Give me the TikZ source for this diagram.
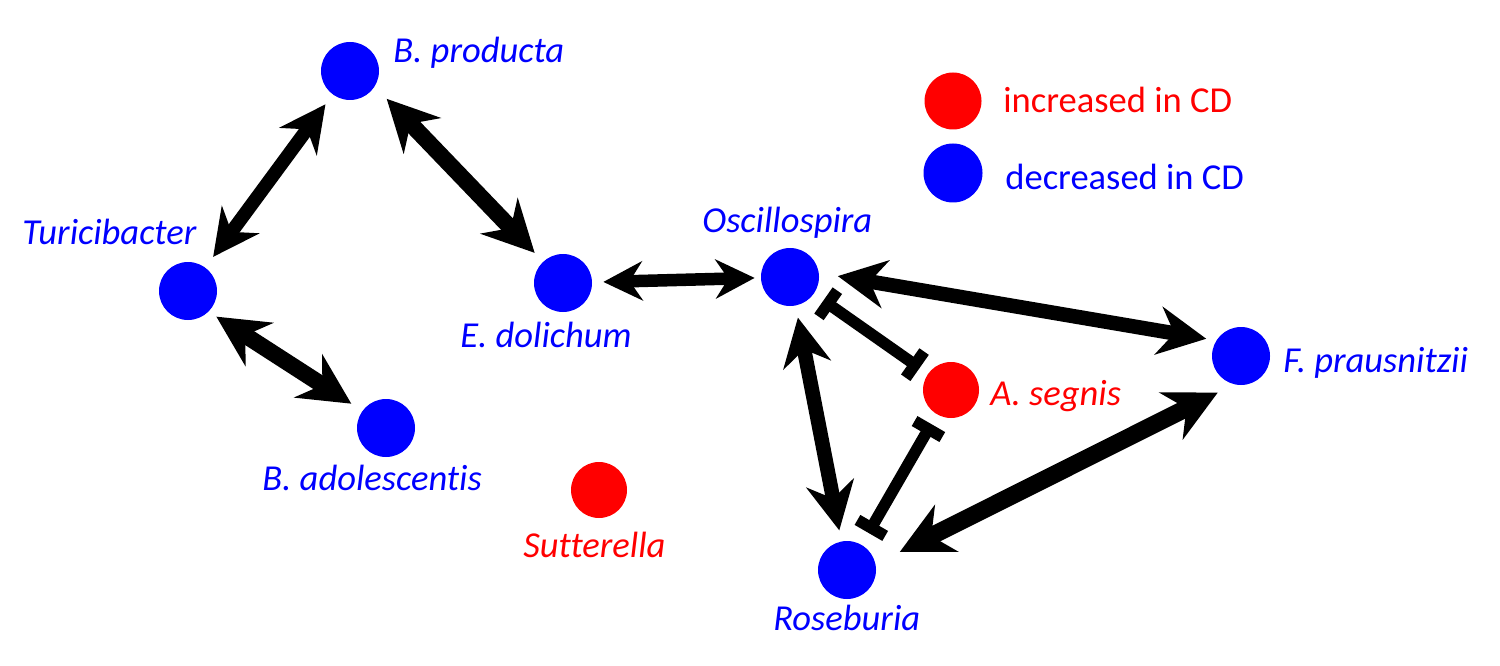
\documentclass[tikz,border=0pt]{standalone}
\usepackage{fontspec}
\setmainfont{Carlito}[Ligatures=NoCommon]
\usepackage{tikz}
\usetikzlibrary{
	arrows.meta,
	positioning
}
\definecolor{PureBlue}{RGB}{0,0,255}
\definecolor{PureRed}{RGB}{255,0,0}

\begin{document}
\begin{tikzpicture}[
		taxon/.style={circle, fill=#1, minimum size=1.16cm, inner sep=0pt},
		taxlabel/.style={text=#1, anchor=base west, inner sep=0pt, font=\fontsize{20.8}{24}\selectfont\itshape},
		legtext/.style={text=#1, anchor=base west, inner sep=0pt, font=\fontsize{20.8}{24}\selectfont},
		mutual/.style 2 args={line width=#1, >={Stealth[length=#2,width=#2]}, <->},
		inhib/.style={line width=0.23cm, {Bar[width=0.64cm]}-{Bar[width=0.64cm]}}
	]
	\useasboundingbox (0,0) rectangle (30,13.3);
	% taxa
	\node[taxon=PureBlue] (bprod) at (7.00,11.88) {};
	\node[taxon=PureBlue] (turi) at (3.76,7.48) {};
	\node[taxon=PureBlue] (edol) at (11.26,7.64) {};
	\node[taxon=PureBlue] (badol) at (7.72,4.74) {};
	\node[taxon=PureRed, minimum size=1.12cm] (sutt) at (11.98,3.50) {};
	\node[taxon=PureBlue] (osc) at (15.80,7.76) {};
	\node[taxon=PureRed, minimum size=1.12cm] (aseg) at (19.02,5.50) {};
	\node[taxon=PureBlue] (rose) at (16.94,1.90) {};
	\node[taxon=PureBlue] (fprau) at (24.82,6.18) {};
	% names
	\node[taxlabel=PureBlue] (bprodtxt) at (7.86,12.04) {B. producta};
	\node[taxlabel=PureBlue] (turitxt) at (0.44,8.40) {Turicibacter};
	\node[taxlabel=PureBlue] (edoltxt) at (9.20,6.36) {E. dolichum};
	\node[taxlabel=PureBlue] (badoltxt) at (5.24,3.50) {B. adolescentis};
	\node[taxlabel=PureRed] (sutttxt) at (10.46,2.16) {Sutterella};
	\node[taxlabel=PureBlue] (osctxt) at (14.04,8.66) {Oscillospira};
	\node[taxlabel=PureRed] (asegtxt) at (19.80,5.20) {A. segnis};
	\node[taxlabel=PureBlue] (rosetxt) at (15.46,0.70) {Roseburia};
	\node[taxlabel=PureBlue] (fprautxt) at (25.66,5.86) {F. prausnitzii};
	% legend
	\node[taxon=PureRed, minimum size=1.14cm] (legup) at (19.06,11.28) {};
	\node[taxon=PureBlue, minimum size=1.18cm] (legdown) at (19.06,9.84) {};
	\node[legtext=PureRed] (leguptxt) at (20.06,11.04) {increased in CD};
	\node[legtext=PureBlue] (legdowntxt) at (20.10,9.50) {decreased in CD};
	% interactions
	\draw[mutual={0.27cm}{0.92cm}, shorten <=0.26cm, shorten >=0.24cm] (turi) -- (bprod);
	\draw[mutual={0.33cm}{1.02cm}, shorten <=0.34cm, shorten >=0.24cm] (bprod.-32) -- (edol.133);
	\draw[mutual={0.33cm}{1.02cm}, shorten <=0.18cm, shorten >=0.26cm] (turi.-45) -- (badol.144);
	\draw[mutual={0.25cm}{0.78cm}, shorten <=0.22cm, shorten >=0.12cm] (edol) -- (osc);
	\draw[mutual={0.29cm}{0.96cm}, shorten <=0.38cm, shorten >=0.20cm] (osc.8) -- (fprau.148);
	\draw[mutual={0.29cm}{0.96cm}, shorten <=0.24cm, shorten >=0.22cm] (osc) -- (rose);
	\draw[mutual={0.35cm}{1.04cm}, shorten <=0.54cm, shorten >=0.36cm] (rose.12) -- (fprau.256);
	\draw[inhib, shorten <=0.23cm, shorten >=0.20cm] (osc) -- (aseg);
	\draw[inhib, shorten <=0.22cm, shorten >=0.27cm] (aseg) -- (rose);
\end{tikzpicture}
\end{document}
